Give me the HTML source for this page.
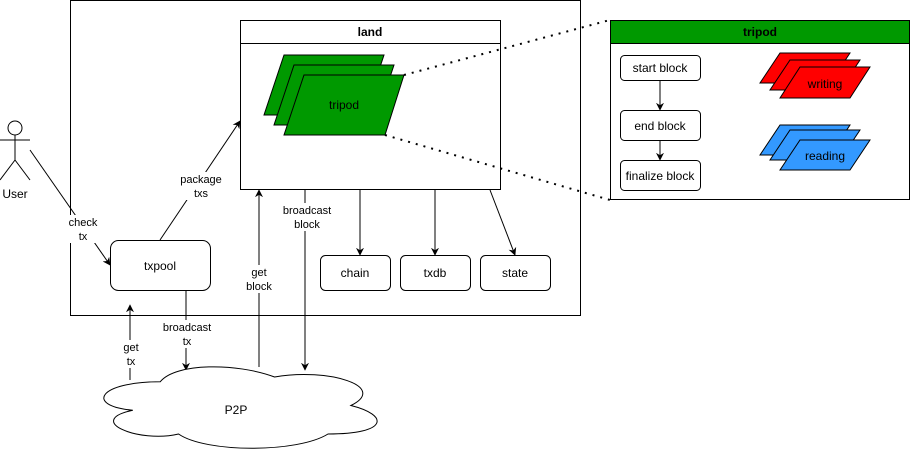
<!DOCTYPE html>
<html><head><meta charset="utf-8"><style>
html,body{margin:0;padding:0;background:#fff;}
svg{display:block;font-family:"Liberation Sans",Helvetica,Arial,sans-serif;}
</style></head><body>
<svg width="911" height="451" viewBox="0 0 911 451" xmlns="http://www.w3.org/2000/svg">
<defs>
<marker id="a" viewBox="0 0 10 10" refX="9" refY="5" markerWidth="8" markerHeight="8" orient="auto" markerUnits="userSpaceOnUse">
<path d="M0,0 L10,5 L0,10 L3,5 Z" fill="#000"/>
</marker>
</defs>
<rect width="911" height="451" fill="#fff"/>
<rect x="70.5" y="0.5" width="510" height="315" fill="#fff" stroke="#000"/>
<rect x="240.5" y="20.5" width="260" height="169" fill="#fff" stroke="#000"/>
<line x1="240.5" y1="43.5" x2="500.5" y2="43.5" stroke="#000"/>
<text x="370" y="36" font-size="12" font-weight="bold" text-anchor="middle">land</text>
<g fill="#009900" stroke="#000">
<polygon points="284,55 384,55 364,115 264,115"/>
<polygon points="294,65 394,65 374,125 274,125"/>
<polygon points="304,75 404,75 385,135 284,135"/>
</g>
<text x="344" y="109" font-size="12" text-anchor="middle">tripod</text>
<line x1="404" y1="75" x2="610" y2="20" stroke="#000" stroke-width="2" stroke-dasharray="2 6"/>
<line x1="385" y1="135" x2="610" y2="200" stroke="#000" stroke-width="2" stroke-dasharray="2 6"/>
<rect x="610.5" y="20.5" width="299" height="179" fill="#fff" stroke="#000"/>
<rect x="610.5" y="20.5" width="299" height="23" fill="#009900" stroke="#000"/>
<text x="760" y="36" font-size="12" font-weight="bold" text-anchor="middle">tripod</text>
<g fill="#fff" stroke="#000">
<rect x="620.5" y="55.5" width="80" height="25" rx="4"/>
<rect x="620.5" y="110.5" width="80" height="30" rx="4"/>
<rect x="620.5" y="160.5" width="80" height="30" rx="4"/>
</g>
<g font-size="12" text-anchor="middle">
<text x="660" y="72">start block</text>
<text x="660" y="130">end block</text>
<text x="660" y="180">finalize block</text>
</g>
<line x1="660" y1="81" x2="660" y2="110" stroke="#000" marker-end="url(#a)"/>
<line x1="660" y1="141" x2="660" y2="160" stroke="#000" marker-end="url(#a)"/>
<g fill="#ff0000" stroke="#000">
<polygon points="780,53 850,53 830,83 760,83"/>
<polygon points="790,60 860,60 840,90 770,90"/>
<polygon points="800,67 870,67 850,98 780,98"/>
</g>
<text x="825" y="88" font-size="12" text-anchor="middle">writing</text>
<g fill="#3399ff" stroke="#000">
<polygon points="780,125 850,125 830,155 760,155"/>
<polygon points="790,130 860,130 840,160 770,160"/>
<polygon points="800,140 870,140 850,170 780,170"/>
</g>
<text x="825" y="160" font-size="12" text-anchor="middle">reading</text>
<g fill="#fff" stroke="#000">
<rect x="320.5" y="255.5" width="70" height="35" rx="5"/>
<rect x="400.5" y="255.5" width="70" height="35" rx="5"/>
<rect x="480.5" y="255.5" width="70" height="35" rx="5"/>
<rect x="110.5" y="240.5" width="100" height="50" rx="8"/>
</g>
<g font-size="12" text-anchor="middle">
<text x="355" y="277">chain</text>
<text x="435" y="277">txdb</text>
<text x="515" y="277">state</text>
<text x="160" y="270">txpool</text>
</g>
<g stroke="#000" fill="none">
<line x1="360" y1="190" x2="360" y2="255" marker-end="url(#a)"/>
<line x1="435" y1="190" x2="435" y2="255" marker-end="url(#a)"/>
<line x1="490" y1="190" x2="515" y2="255" marker-end="url(#a)"/>
<line x1="30" y1="150" x2="110" y2="265" marker-end="url(#a)"/>
<line x1="160" y1="240" x2="240" y2="121" marker-end="url(#a)"/>
<line x1="259" y1="367" x2="259" y2="190" marker-end="url(#a)"/>
<line x1="305" y1="190" x2="305" y2="370" marker-end="url(#a)"/>
<line x1="186" y1="291" x2="186" y2="370" marker-end="url(#a)"/>
<line x1="130" y1="380" x2="130" y2="305" marker-end="url(#a)"/>
</g>
<g fill="#fff">
<rect x="66" y="215" width="34" height="28"/>
<rect x="177" y="172" width="48" height="28"/>
<rect x="245" y="265" width="30" height="28"/>
<rect x="281" y="203" width="52" height="28"/>
<rect x="161" y="320" width="52" height="28"/>
<rect x="119" y="340" width="24" height="28"/>
</g>
<g font-size="11" text-anchor="middle">
<text x="83" y="226">check</text><text x="83" y="240">tx</text>
<text x="201" y="183">package</text><text x="201" y="197">txs</text>
<text x="259" y="276">get</text><text x="259" y="290">block</text>
<text x="307" y="214">broadcast</text><text x="307" y="228">block</text>
<text x="187" y="331">broadcast</text><text x="187" y="345">tx</text>
<text x="131" y="351">get</text><text x="131" y="365">tx</text>
</g>
<g stroke="#000" fill="#fff">
<circle cx="15" cy="128" r="7"/>
<line x1="15" y1="135" x2="15" y2="160"/>
<line x1="0" y1="140" x2="30" y2="140"/>
<line x1="15" y1="160" x2="0" y2="180"/>
<line x1="15" y1="160" x2="30" y2="180"/>
</g>
<text x="15" y="198" font-size="12" text-anchor="middle">User</text>
<path d="M160.25,381.75 C99.25,381.75 84,405.5 132.8,410.25 C84,420.7 138.9,443.5 178.55,434 C206,453 297.5,453 328,434 C389,434 389,415 350.9,405.5 C389,386.5 328,367.5 274.6,377 C236.5,362.75 175.5,362.75 160.25,381.75 Z" fill="#fff" stroke="#000"/>
<text x="236" y="414" font-size="12" text-anchor="middle">P2P</text>
</svg>
</body></html>
